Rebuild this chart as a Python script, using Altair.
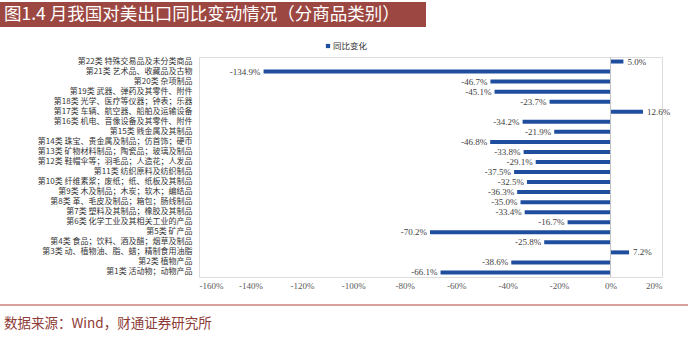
import altair as alt
import pandas as pd

categories = [
    "第22类 特殊交易品及未分类商品",
    "第21类 艺术品、收藏品及古物",
    "第20类 杂项制品",
    "第19类 武器、弹药及其零件、附件",
    "第18类 光学、医疗等仪器；钟表；乐器",
    "第17类 车辆、航空器、船舶及运输设备",
    "第16类 机电、音像设备及其零件、附件",
    "第15类 贱金属及其制品",
    "第14类 珠宝、贵金属及制品；仿首饰；硬币",
    "第13类 矿物材料制品；陶瓷品；玻璃及制品",
    "第12类 鞋帽伞等；羽毛品；人造花；人发品",
    "第11类 纺织原料及纺织制品",
    "第10类 纤维素浆；废纸；纸、纸板及其制品",
    "第9类 木及制品；木炭；软木；编结品",
    "第8类 革、毛皮及制品；箱包；肠线制品",
    "第7类 塑料及其制品；橡胶及其制品",
    "第6类 化学工业及其相关工业的产品",
    "第5类 矿产品",
    "第4类 食品；饮料、酒及醋；烟草及制品",
    "第3类 动、植物油、脂、蜡；精制食用油脂",
    "第2类 植物产品",
    "第1类 活动物；动物产品",
]
values = [5.0, -134.9, -46.7, -45.1, -23.7, 12.6, -34.2, -21.9, -46.8, -33.8, -29.1,
          -37.5, -32.5, -36.3, -35.0, -33.4, -16.7, -70.2, -25.8, 7.2, -38.6, -66.1]
x_ticks = [-160, -140, -120, -100, -80, -60, -40, -20, 0, 20]
title_text = "图1.4 月我国对美出口同比变动情况（分商品类别）"
source_text = "数据来源：Wind，财通证券研究所"
series_name = "同比变化"

df = pd.DataFrame({"cat": categories, "val": values})
df["label"] = df["val"].map(lambda v: f"{v:.1f}%")

BLUE = "#1F4E9E"
RED = "#9C4742"
PL, PT, W, H = 199, 57, 463, 220

xs = alt.X("val:Q", scale=alt.Scale(domain=[-160, 20], nice=False),
           axis=alt.Axis(values=x_ticks, labelExpr="datum.value + '%'", title=None,
                         domain=False, ticks=False, grid=False, labelPadding=4,
                         labelFont="Liberation Serif", labelFontSize=9, labelColor="#595959"))
ys = alt.Y("cat:N", sort=categories,
           scale=alt.Scale(paddingInner=0.6, paddingOuter=0.25),
           axis=alt.Axis(title=None, domain=False, ticks=False, labelPadding=7,
                         labelFont="Noto Sans CJK SC", labelFontSize=8, labelColor="#333333",
                         labelLimit=300))

base = alt.Chart(df)
bars = base.mark_bar(color=BLUE, size=4).encode(x=xs, y=ys)
neg = base.transform_filter("datum.val < 0").mark_text(
    align="right", dx=-3, font="Liberation Serif", fontSize=9, color="#404040"
).encode(x="val:Q", y=alt.Y("cat:N", sort=categories), text="label:N")
pos = base.transform_filter("datum.val >= 0").mark_text(
    align="left", dx=4, font="Liberation Serif", fontSize=9, color="#404040"
).encode(x="val:Q", y=alt.Y("cat:N", sort=categories), text="label:N")

zero = alt.Chart(pd.DataFrame({"z": [0]})).mark_rule(color="#C0C0C0", strokeWidth=1).encode(x="z:Q")

one = pd.DataFrame({"t": [title_text], "s": [source_text], "n": [series_name]})
title_bar = alt.Chart(one).mark_rect(color=RED).encode(
    x=alt.value(0 - PL), x2=alt.value(426 - PL), y=alt.value(2 - PT), y2=alt.value(27 - PT))
title_txt = alt.Chart(one).mark_text(
    align="left", baseline="middle", font="Noto Sans CJK SC", fontSize=17.5, color="white"
).encode(x=alt.value(4 - PL), y=alt.value(15 - PT), text="t:N")
legend_sq = alt.Chart(one).mark_square(color=BLUE, size=18, opacity=1).encode(
    x=alt.value(328 - PL), y=alt.value(46 - PT))
legend_txt = alt.Chart(one).mark_text(
    align="left", baseline="middle", font="Noto Sans CJK SC", fontSize=8.5, color="#333333"
).encode(x=alt.value(333 - PL), y=alt.value(46 - PT), text="n:N")
bottom_line = alt.Chart(one).mark_rule(color="#D9A19D", strokeWidth=2).encode(
    x=alt.value(0 - PL), x2=alt.value(688 - PL), y=alt.value(305 - PT))
source_txt = alt.Chart(one).mark_text(
    align="left", baseline="middle", font="Noto Sans CJK SC", fontSize=13.5, color="#8E3B36"
).encode(x=alt.value(4 - PL), y=alt.value(324 - PT), text="s:N")

chart = alt.layer(
    bars, zero, neg, pos, title_bar, title_txt, legend_sq, legend_txt, bottom_line, source_txt
).properties(
    width=W, height=H,
    autosize=alt.AutoSizeParams(type="none"),
    padding={"left": PL, "top": PT, "right": 700 - PL - W, "bottom": 340 - PT - H},
).configure_view(stroke=None).configure(background="white")

chart.save("out.html", embed_options={"renderer": "svg", "actions": False})
